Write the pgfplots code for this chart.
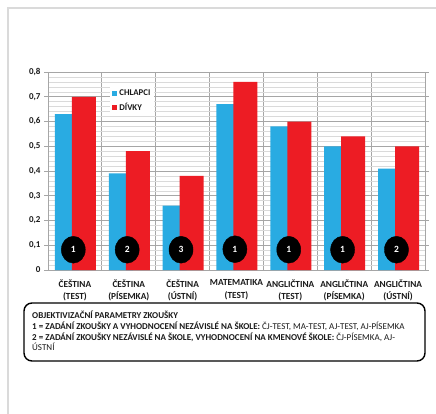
\documentclass[border=0pt]{standalone}
\usepackage{pgfplots}
\pgfplotsset{compat=1.18}
\usepackage{fontspec}
\setmainfont{Carlito}
\definecolor{cblue}{HTML}{29ABE2}
\definecolor{cred}{HTML}{ED1C24}
\definecolor{gmaj}{HTML}{A6A6A6}
\definecolor{gmin}{HTML}{DADADA}
\definecolor{txt}{HTML}{1A1A1A}
\begin{document}
\begin{tikzpicture}[x=1pt,y=1pt]
\useasboundingbox (0,0) rectangle (436,-413);
\fill[white] (0,0) rectangle (436,-413);
\draw[line width=2pt, gmin] (8,-414) -- (8,-8) -- (437,-8);
\begin{axis}[
  at={(48pt,-270pt)}, anchor=south west,
  width=377pt, height=198pt, scale only axis,
  xmin=-0.5, xmax=6.5, ymin=0, ymax=0.8,
  xtick={0,1,2,3,4,5,6},
  xticklabels={{ČEŠTINA\\(TEST)},{ČEŠTINA\\(PÍSEMKA)},{ČEŠTINA\\(ÚSTNÍ)},{MATEMATIKA\\(TEST)},{ANGLIČTINA\\(TEST)},{ANGLIČTINA\\(PÍSEMKA)},{ANGLIČTINA\\(ÚSTNÍ)}},
  xticklabel style={align=center, font=\bfseries\fontsize{9.3}{12.5}\selectfont, text=txt, yshift=-2pt},
  major x tick style={draw=none},
  minor xtick={0.5,1.5,2.5,3.5,4.5,5.5},
  xminorgrids=true, minor x grid style={gmaj, line width=0.8pt},
  minor x tick style={draw=none},
  ytick={0,0.1,0.2,0.3,0.4,0.5,0.6,0.7,0.8},
  ymajorgrids=true, major grid style={gmaj, line width=0.8pt},
  minor y tick num=4, yminorgrids=true, minor y grid style={gmin, line width=0.5pt},
  minor y tick style={draw=none},
  axis line style={gmaj, line width=0.8pt},
  major y tick style={gmaj, line width=0.8pt},
  tick align=outside, major tick length=4pt,
  /pgf/number format/assume math mode=true,
  /pgf/number format/use comma,
  yticklabel style={font=\bfseries\fontsize{9}{10}\selectfont, text=txt, /pgf/number format/fixed},
  legend style={at={(0.165,0.93)}, anchor=north west, draw=none, fill=white,
    font=\bfseries\fontsize{8.8}{10}\selectfont, text=txt, row sep=2pt, inner sep=2pt},
  legend cell align=left,
  legend image code/.code={\fill (0pt,-2.5pt) rectangle (5pt,2.5pt);},
]
\addplot[ybar, fill=cblue, draw=none, bar width=24pt, bar shift=-8pt]
  coordinates {(0,0.63) (1,0.39) (2,0.26) (3,0.67) (4,0.58) (5,0.50) (6,0.41)};
\addlegendentry{CHLAPCI}
\addplot[ybar, fill=cred, draw=none, bar width=24pt, bar shift=9pt]
  coordinates {(0,0.70) (1,0.48) (2,0.38) (3,0.76) (4,0.60) (5,0.54) (6,0.50)};
\addlegendentry{DÍVKY}
\addplot[forget plot, only marks, mark=*, mark size=12pt,
  mark options={fill=black, draw=none, yscale=1.12},
  point meta=explicit symbolic, nodes near coords,
  every node near coord/.style={anchor=center, text=white, font=\bfseries\fontsize{9.5}{9}\selectfont}]
  coordinates {(-0.03,0.082)[1] (0.97,0.082)[2] (1.97,0.082)[3] (2.97,0.084)[1] (3.97,0.082)[1] (4.97,0.082)[1] (5.97,0.082)[2]};
\end{axis}
\draw[rounded corners=8pt, line width=1.4pt, black] (24,-303) rectangle (425,-361);
\begin{scope}[every node/.style={anchor=base west, inner sep=0pt, text=txt, font=\fontsize{9}{9}\selectfont}]
\node at (32,-318) {\bfseries OBJEKTIVIZAČNÍ PARAMETRY ZKOUŠKY};
\node at (32,-329) {\textbf{1 = ZADÁNÍ ZKOUŠKY A VYHODNOCENÍ NEZÁVISLÉ NA ŠKOLE:} ČJ-TEST, MA-TEST, AJ-TEST, AJ-PÍSEMKA};
\node at (32,-340) {\textbf{2 = ZADÁNÍ ZKOUŠKY NEZÁVISLÉ NA ŠKOLE, VYHODNOCENÍ NA KMENOVÉ ŠKOLE:} ČJ-PÍSEMKA, AJ-};
\node at (32,-350.5) {ÚSTNÍ};
\end{scope}
\end{tikzpicture}
\end{document}
